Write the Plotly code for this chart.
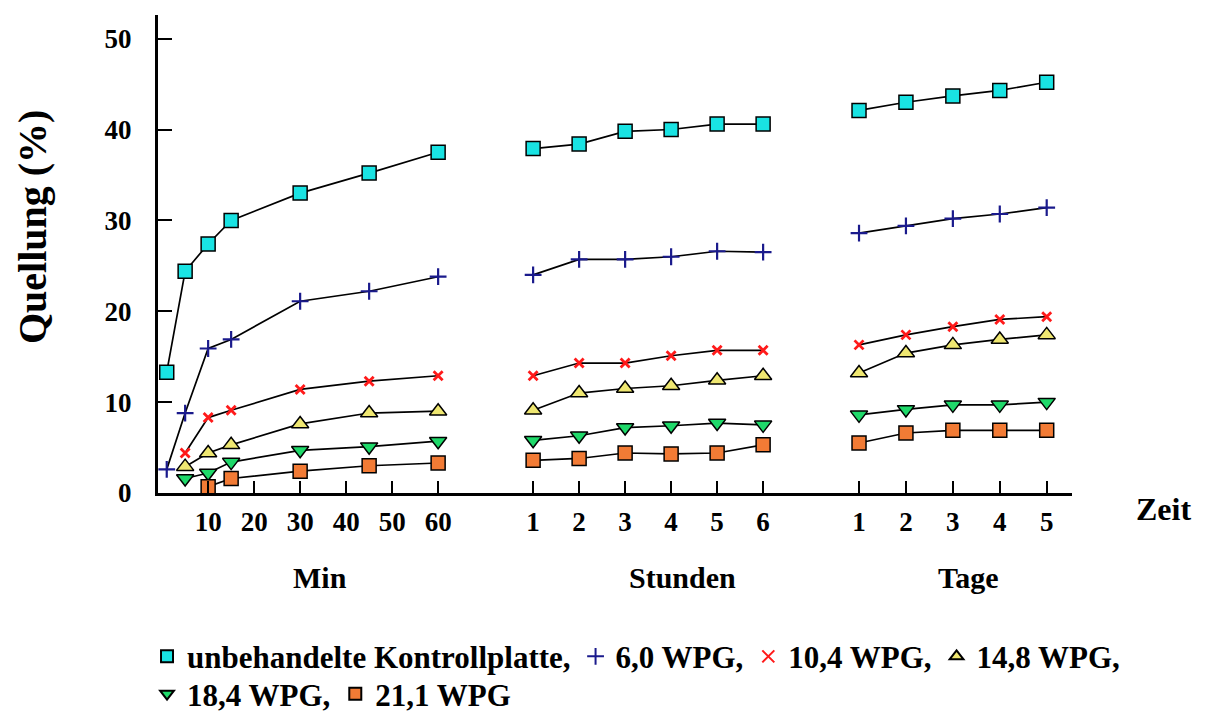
import plotly.graph_objects as go

# ---------------- data ----------------
series_names = ["unbehandelte Kontrollplatte,", "6,0 WPG,", "10,4 WPG,", "14,8 WPG,", "18,4 WPG,", "21,1 WPG"]
legend_row = ["legend", "legend", "legend", "legend", "legend2", "legend2"]

min_times = [1, 5, 10, 15, 30, 45, 60]
hour_times = [1, 2, 3, 4, 5, 6]
day_times = [1, 2, 3, 4, 5]

min_ticks = [10, 20, 30, 40, 50, 60]
hour_ticks = [1, 2, 3, 4, 5, 6]
day_ticks = [1, 2, 3, 4, 5]
y_ticks = [0, 10, 20, 30, 40, 50]

# values per series: minutes (None = not measured), hours, days
ctrl_min = [13.3, 24.4, 27.4, 30.0, 33.0, 35.2, 37.5]
ctrl_hour = [37.9, 38.4, 39.8, 40.0, 40.6, 40.6]
ctrl_day = [42.1, 43.0, 43.7, 44.3, 45.2]

w60_min = [2.6, 8.8, 15.9, 16.9, 21.1, 22.2, 23.8]
w60_hour = [24.0, 25.7, 25.7, 26.0, 26.6, 26.5]
w60_day = [28.6, 29.4, 30.2, 30.7, 31.4]

w104_min = [None, 4.4, 8.3, 9.1, 11.4, 12.3, 12.9]
w104_hour = [12.9, 14.3, 14.3, 15.1, 15.7, 15.7]
w104_day = [16.3, 17.4, 18.3, 19.1, 19.4]

w148_min = [None, 2.9, 4.4, 5.3, 7.6, 8.8, 9.0]
w148_hour = [9.1, 11.0, 11.5, 11.8, 12.4, 12.9]
w148_day = [13.2, 15.4, 16.3, 16.9, 17.4]

w184_min = [None, 1.6, 2.2, 3.4, 4.7, 5.1, 5.7]
w184_hour = [5.8, 6.3, 7.2, 7.4, 7.7, 7.5]
w184_day = [8.6, 9.2, 9.7, 9.7, 10.0]

w211_min = [None, None, 0.7, 1.6, 2.4, 3.0, 3.3]
w211_hour = [3.6, 3.8, 4.4, 4.3, 4.4, 5.3]
w211_day = [5.5, 6.6, 6.9, 6.9, 6.9]

segment_labels = ["Min", "Stunden", "Tage"]

# ---------------- scale of the broken time axis ----------------
HOUR_OFFSET, HOUR_STEP = 70.65, 10.0
DAY_OFFSET, DAY_STEP = 141.3, 10.2
LABEL_SHIFT = [3.8, 7.4, 3.5]   # label offset from segment centre (axis units)


def pos_min(t):
    return t


def pos_hour(h):
    return HOUR_OFFSET + HOUR_STEP * h


def pos_day(d):
    return DAY_OFFSET + DAY_STEP * d


def build(vmin, vhour, vday):
    xs, ys = [], []
    xs += [pos_min(t) for t in min_times]
    ys += list(vmin)
    xs.append(None); ys.append(None)
    xs += [pos_hour(h) for h in hour_times]
    ys += list(vhour)
    xs.append(None); ys.append(None)
    xs += [pos_day(d) for d in day_times]
    ys += list(vday)
    return xs, ys


data = [
    (ctrl_min, ctrl_hour, ctrl_day),
    (w60_min, w60_hour, w60_day),
    (w104_min, w104_hour, w104_day),
    (w148_min, w148_hour, w148_day),
    (w184_min, w184_hour, w184_day),
    (w211_min, w211_hour, w211_day),
]

markers = [
    dict(symbol="square", size=14, color="#19e3e3", line=dict(color="black", width=1.5)),
    dict(symbol="cross-thin", size=12, color="#1a1a8c", line=dict(color="#1a1a8c", width=2.2)),
    dict(symbol="x-thin", size=9, color="#ff1a1a", line=dict(color="#ff1a1a", width=2.8)),
    dict(symbol="triangle-up", size=15, color="#efe771", line=dict(color="black", width=1.5)),
    dict(symbol="triangle-down", size=15, color="#1fd96a", line=dict(color="black", width=1.5)),
    dict(symbol="square", size=14, color="#f27b35", line=dict(color="black", width=1.5)),
]

FONT = "Liberation Serif"

fig = go.Figure()

for (vm, vh, vd) in data:
    x, y = build(vm, vh, vd)
    fig.add_trace(go.Scatter(x=x, y=y, mode="lines", connectgaps=False,
                             line=dict(color="black", width=1.7),
                             showlegend=False, hoverinfo="skip"))

for name, (vm, vh, vd), mk, lg in zip(series_names, data, markers, legend_row):
    x, y = build(vm, vh, vd)
    fig.add_trace(go.Scatter(x=x, y=y, mode="markers", name=name, marker=mk, legend=lg))

tickvals = [pos_min(t) for t in min_ticks] + [pos_hour(h) for h in hour_ticks] + [pos_day(d) for d in day_ticks]
ticktext = [str(t) for t in min_ticks] + [str(h) for h in hour_ticks] + [str(d) for d in day_ticks]

legend_style = dict(orientation="h", xanchor="left", yanchor="top",
                    font=dict(family=FONT, size=31, weight="bold"),
                    itemsizing="constant", tracegroupgap=0, bgcolor="rgba(0,0,0,0)")

# the page body adds an 8px offset, so the figure is 8px smaller
fig.update_layout(
    width=1209, height=710,
    margin=dict(l=150, r=145, t=7, b=225, autoexpand=False),
    paper_bgcolor="white", plot_bgcolor="white",
    font=dict(family=FONT, size=22, color="black", weight="bold"),
    xaxis=dict(range=[-0.9, 197.8], tickmode="array", tickvals=tickvals, ticktext=ticktext,
               showgrid=False, zeroline=False, showline=True, linecolor="black", linewidth=3,
               ticks="inside", ticklen=12, tickwidth=2, tickcolor="black",
               ticklabelstandoff=3, automargin=False,
               tickfont=dict(family=FONT, size=27, weight="bold")),
    yaxis=dict(range=[0, 52.6], tickmode="array", tickvals=y_ticks,
               showgrid=False, zeroline=False, showline=True, linecolor="black", linewidth=3,
               ticks="inside", ticklen=14, tickwidth=2, tickcolor="black",
               ticklabelstandoff=18, automargin=False,
               tickfont=dict(family=FONT, size=27, weight="bold")),
    legend=dict(x=-0.012, y=-0.286, **legend_style),
    legend2=dict(x=-0.012, y=-0.364, **legend_style),
    showlegend=True,
)

# y-axis title
fig.add_annotation(x=-0.138, xref="paper", y=0.556, yref="paper", text="Quellung (%)",
                   textangle=-90, showarrow=False, xanchor="center", yanchor="middle",
                   font=dict(family=FONT, size=40, weight="bold"))

seg_centers = [(pos_min(min_times[0]) + pos_min(min_times[-1])) / 2,
               (pos_hour(hour_times[0]) + pos_hour(hour_times[-1])) / 2,
               (pos_day(day_times[0]) + pos_day(day_times[-1])) / 2]
for lab, xc, sh in zip(segment_labels, seg_centers, LABEL_SHIFT):
    fig.add_annotation(x=xc + sh, xref="x", y=-0.176, yref="paper", text=lab, showarrow=False,
                       font=dict(family=FONT, size=30, weight="bold"), yanchor="middle")

fig.add_annotation(x=1.1, xref="paper", y=-0.033, yref="paper", text="Zeit", showarrow=False,
                   font=dict(family=FONT, size=32, weight="bold"), yanchor="middle", xanchor="center")

fig.write_html("out.html")
